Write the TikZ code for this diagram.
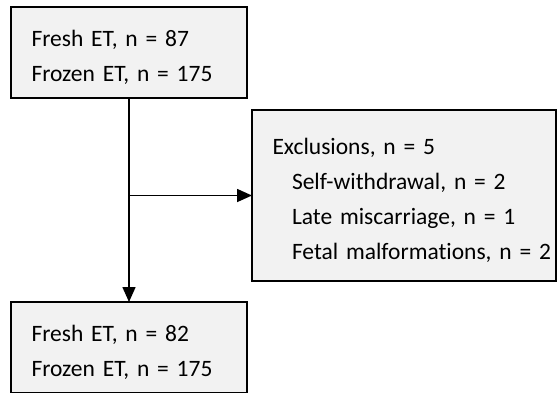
\documentclass[tikz,border=0pt]{standalone}
\usepackage{fontspec}
\setmainfont{Carlito}[Ligatures=NoCommon]
\usetikzlibrary{arrows.meta}
\definecolor{boxgray}{HTML}{F2F2F2}
\newcommand{\lnst}[1]{\mbox{\rule[-4pt]{0pt}{31pt}#1}}

\begin{document}
\begin{tikzpicture}[x=1pt, y=-1pt, line width=1.6pt,
  box/.style={draw=black, fill=boxgray, rectangle, anchor=north west,
    inner xsep=20.5pt, inner ysep=0pt, outer sep=0pt, align=left,
    font=\fontsize{23.5}{35}\selectfont},
  arr/.style={-{Triangle[length=15pt,width=13pt]}}]
  \useasboundingbox (0,0) rectangle (557,392);
  \node[box, text width=195pt, minimum height=91pt] (Top) at (11,7)
    {\lnst{Fresh ET, n = 87}\\\lnst{Frozen ET, n = 175}};
  \node[box, text width=263pt, minimum height=171pt] (Ex) at (252,110)
    {\lnst{Exclusions, n = 5}\\
     \lnst{\hspace*{19.5pt}Self-withdrawal, n = 2}\\
     \lnst{\hspace*{19.5pt}Late miscarriage, n = 1}\\
     \lnst{\hspace*{19.5pt}Fetal malformations, n = 2}};
  \node[box, text width=195pt, minimum height=91pt] (Bot) at (11,302)
    {\lnst{Fresh ET, n = 82}\\\lnst{Frozen ET, n = 175}};
  \coordinate (J) at (Top.south |- Ex.west);
  % 箭头
  \draw[arr] (Top.south) -- (Bot.north);
  \draw[arr] (J) -- (Ex.west);
\end{tikzpicture}
\end{document}
